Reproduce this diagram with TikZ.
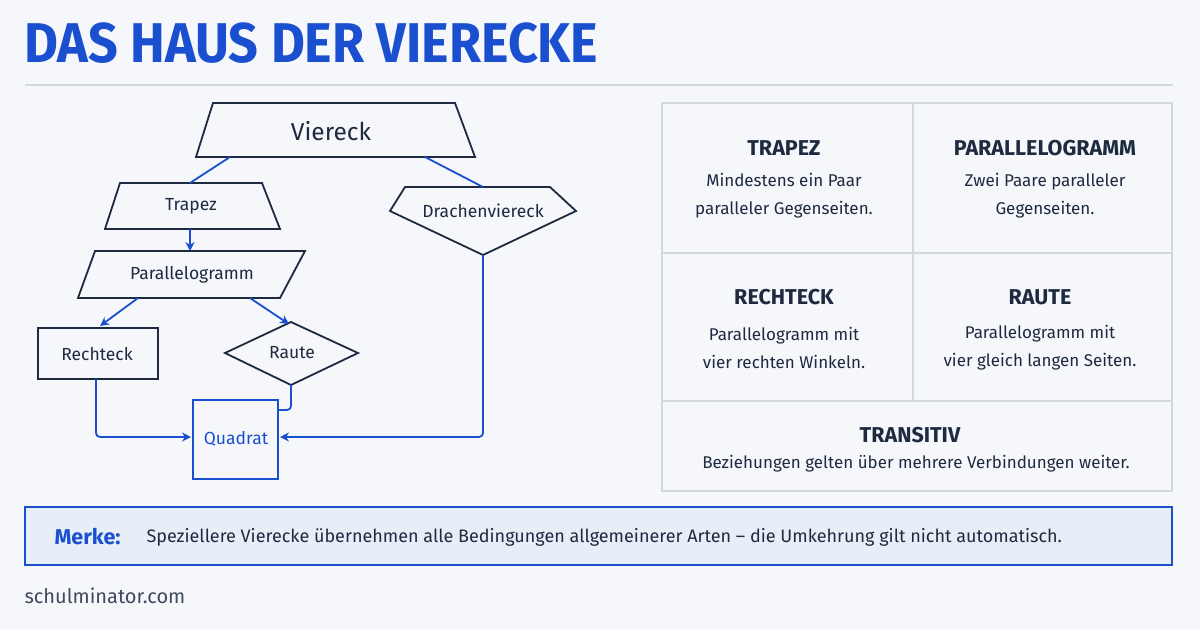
\documentclass[tikz,border=0pt]{standalone}
\usepackage{fontspec}
\setmainfont{Fira Sans}
\usetikzlibrary{calc}
\usetikzlibrary{arrows.meta}
\definecolor{hblue}{HTML}{1A4FD0}
\definecolor{navy}{HTML}{1E2A40}
\definecolor{bgc}{HTML}{F5F7FA}
\definecolor{gridc}{HTML}{D3D8E0}
\definecolor{merkebg}{HTML}{E8EEF8}
\begin{document}
\begin{tikzpicture}[x=1pt,y=-1pt,%
  box/.style={draw=navy, line width=1.8pt, fill=bgc},
  link/.style={draw=hblue, line width=1.8pt, rounded corners=4pt},
  arr/.style={link, -{Stealth[length=9pt,width=9pt]}},
  lbl/.style={text=navy, font=\fontsize{17.5}{20}\selectfont},
  ttl/.style={text=navy, font=\bfseries\fontsize{21.5}{25}\selectfont},
  desc/.style={text=navy, align=center, font=\fontsize{17}{28}\selectfont}
]
\useasboundingbox (0,0) rectangle (1200,630);
\fill [bgc] (0,0) rectangle (1200,630);

% title
\node [anchor=west, text=hblue, inner sep=0pt] (title) at (24,43)
   {\scalebox{0.93}[1]{\bfseries\fontsize{56}{60}\selectfont DAS HAUS DER VIERECKE}};
\draw [gridc, line width=1.2pt] (25,85) -- (1173,85);

% shapes of the chart
\draw [box] (213,103) -- (455,103) -- (475,157) -- (196,157) -- cycle;
\node [lbl, font=\fontsize{24.5}{28}\selectfont] (vier) at (331,131) {Viereck};
\draw [box] (120,183) -- (262,183) -- (280,229) -- (105,229) -- cycle;
\node [lbl] (trap) at (191,206) {Trapez};
\draw [box] (95,251) -- (305,251) -- (280,298) -- (78,298) -- cycle;
\node [lbl] (para) at (192,275) {Parallelogramm};
\draw [box] (38,328) rectangle (158,379);
\node [lbl] (rect) at (97,354) {Rechteck};
\draw [box] (225,353) -- (291,322) -- (358,353) -- (291,385) -- cycle;
\node [lbl] (raute) at (292,353) {Raute};
\draw [box] (405,187) -- (550,187) -- (576,211) -- (483,255) -- (390,211) -- cycle;
\node [lbl] (drach) at (483,211) {Drachenviereck};
\draw [draw=hblue, line width=1.8pt, fill=bgc] (193,400) rectangle (278,479);
\node [lbl, text=hblue] (quad) at (236,439) {Quadrat};

% connectors
\coordinate (vierSW) at (230,157);
\coordinate (vierSE) at (425,157);
\coordinate (trapN) at (190,183);
\coordinate (trapS) at (190,229);
\coordinate (paraN) at (190,251);
\coordinate (paraSW) at (138,298);
\coordinate (paraSE) at (250,298);
\coordinate (rectN) at (100,326);
\coordinate (rauteN) at (289,324);
\coordinate (rectS) at (96,379);
\coordinate (rauteS) at (291,385);
\coordinate (drachN) at (483,187);
\coordinate (drachS) at (483,255);
\coordinate (quadW) at (191,437);
\coordinate (quadE) at (280,437);
\coordinate (quadNE) at (279,410);
\draw [link] (vierSW) -- (trapN);
\draw [link] (vierSE) -- (drachN);
\draw [arr] (trapS) -- (paraN);
\draw [arr] (paraSW) -- (rectN);
\draw [arr] (paraSE) -- (rauteN);
\draw [arr] (rectS) |- (quadW);
\draw [link] (rauteS) |- (quadNE);
\draw [arr] (drachS) |- (quadE);

% info grid
\draw [gridc, line width=1.2pt] (662,103) rectangle (1172,491);
\draw [gridc, line width=1.2pt] (913,103) -- (913,401);
\draw [gridc, line width=1.2pt] (662,253) -- (1172,253);
\draw [gridc, line width=1.2pt] (662,401) -- (1172,401);
\node [ttl] (tTrap) at (784,148) {TRAPEZ};
\node [desc] (dTrap) at (784,196) {Mindestens ein Paar\\paralleler Gegenseiten.};
\node [ttl] (tPara) at (1045,148) {PARALLELOGRAMM};
\node [desc] (dPara) at (1045,196) {Zwei Paare paralleler\\Gegenseiten.};
\node [ttl] (tRect) at (784,297) {RECHTECK};
\node [desc] (dRect) at (784,348) {Parallelogramm mit\\vier rechten Winkeln.};
\node [ttl] (tRaut) at (1040,297) {RAUTE};
\node [desc] (dRaut) at (1040,348) {Parallelogramm mit\\vier gleich langen Seiten.};
\node [ttl] (tTran) at (910,435) {TRANSITIV};
\node [desc] (dTran) at (916,464) {Beziehungen gelten über mehrere Verbindungen weiter.};

% merke box
\draw [hblue, fill=merkebg, line width=1.5pt] (25,507) rectangle (1172,565);
\node [anchor=west, text=hblue, font=\bfseries\fontsize{21.5}{25}\selectfont] (merke) at (51,537) {Merke:};
\node [anchor=west, text=navy, font=\fontsize{18}{22}\selectfont] (merkeT) at (143,537)
   {Speziellere Vierecke übernehmen alle Bedingungen allgemeinerer Arten – die Umkehrung gilt nicht automatisch.};
\node [anchor=west, text=navy!85, font=\fontsize{20}{24}\selectfont] (site) at (21,596) {schulminator.com};
\end{tikzpicture}
\end{document}
